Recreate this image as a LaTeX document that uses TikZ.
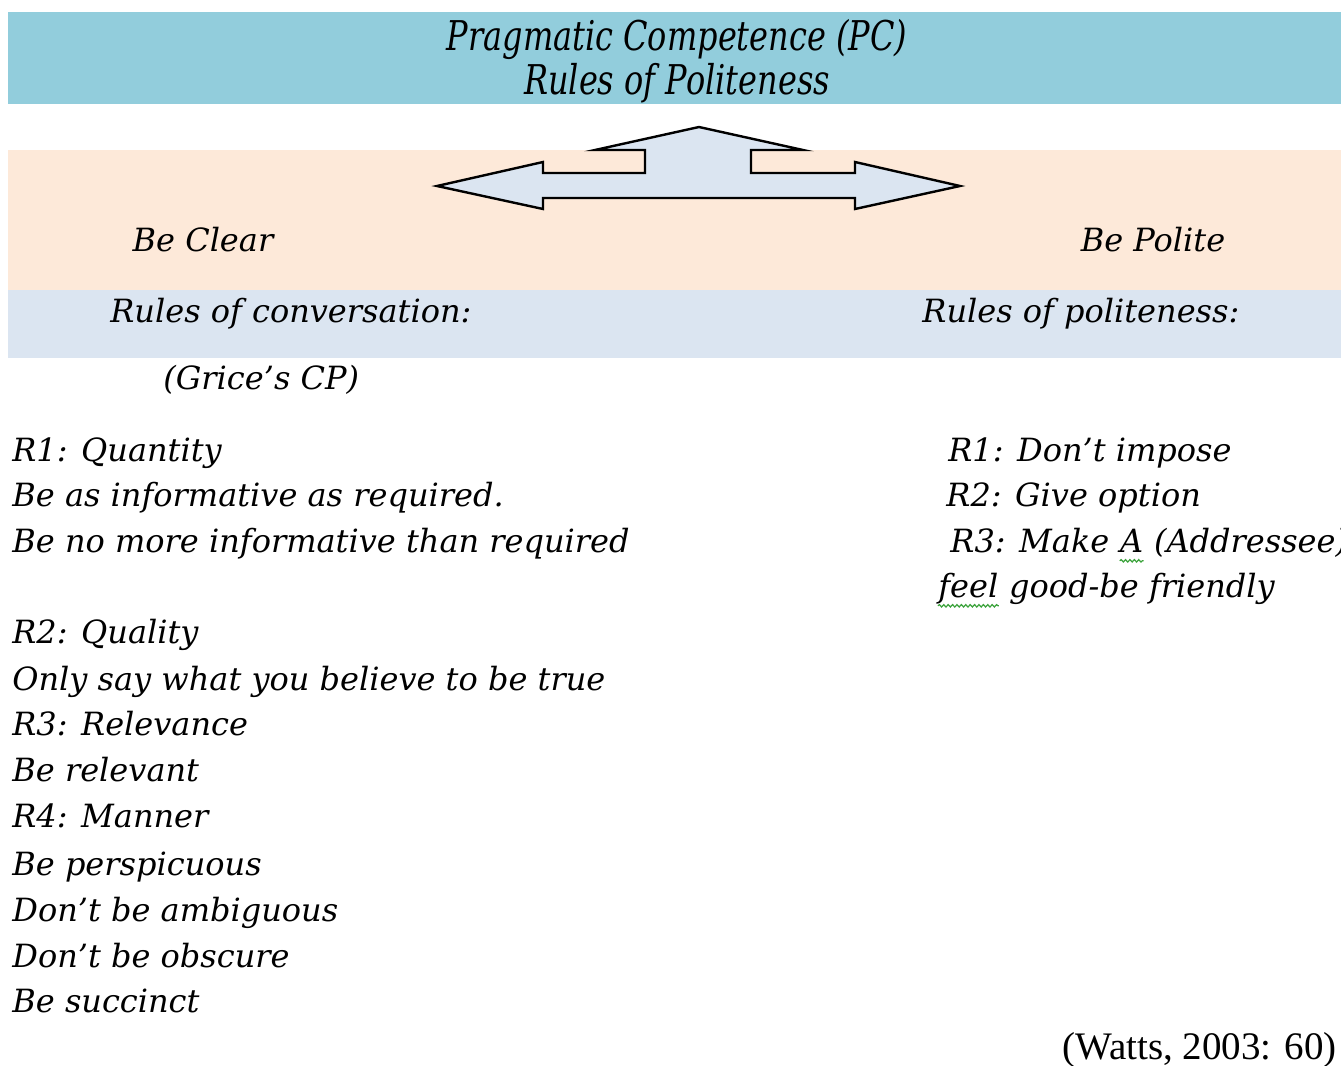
\documentclass[tikz,border=0pt]{standalone}
\usepackage{fontspec}
\setmainfont{DejaVu Serif}
\newfontfamily\hdfont[FakeStretch=0.78]{DejaVu Serif}
\newfontfamily\citefont{Liberation Serif}
\usetikzlibrary{decorations.pathmorphing}
\definecolor{topblue}{HTML}{92CDDC}
\definecolor{peach}{HTML}{FDE9D9}
\definecolor{paleblue}{HTML}{DBE5F1}
\definecolor{spell}{HTML}{3AA23A}
\begin{document}
\begin{tikzpicture}[x=0.5pt,y=-0.5pt,
  txt/.style={inner sep=0pt,font=\fontsize{16}{19}\selectfont\itshape,text height=0.72em,text depth=0.22em},
  hd/.style={inner sep=0pt,font=\fontsize{20.5}{24}\selectfont\hdfont\itshape,text height=0.72em,text depth=0.22em},
  squig/.style={draw=spell,line width=0.6pt,decorate,decoration={snake,amplitude=0.6pt,segment length=2.2pt}}]
\useasboundingbox (0,0) rectangle (1341,1066);
\fill[white] (0,0) rectangle (1341,1066);
% bands
\fill[topblue] (8,12) rectangle (1341,104);
\fill[peach] (8,150) rectangle (1341,290);
\fill[paleblue] (8,290) rectangle (1341,358);
% header
\node[hd] (h1) at (677,45) {Pragmatic Competence (PC)};
\node[hd] (h2) at (677,89) {Rules of Politeness};
% arrow
\draw[fill=paleblue,line width=1.2pt,line join=miter]
  (437,186) -- (543,162) -- (543,173) -- (645,173) -- (645,150) -- (595,150)
  -- (699,127) -- (803,150) -- (751,150) -- (751,173) -- (855,173) -- (855,162)
  -- (960,186) -- (855,209) -- (855,198) -- (543,198) -- (543,209) -- cycle;
% headings
\node[txt] (clear) at (203,246) {Be Clear};
\node[txt] (polite) at (1153,246) {Be Polite};
\node[txt,anchor=west] (rconv) at (110,317) {Rules of conversation:};
\node[txt,anchor=west] (rpol) at (922,317) {Rules of politeness:};
\node[txt,anchor=west] (grice) at (163,384) {(Grice’s CP)};
% left list
\node[txt,anchor=west] (l1) at (12,456) {R1: Quantity};
\node[txt,anchor=west] (l2) at (12,501) {Be as informative as required.};
\node[txt,anchor=west] (l3) at (12,547) {Be no more informative than required};
\node[txt,anchor=west] (l4) at (12,638) {R2: Quality};
\node[txt,anchor=west] (l5) at (12,685) {Only say what you believe to be true};
\node[txt,anchor=west] (l6) at (12,730) {R3: Relevance};
\node[txt,anchor=west] (l7) at (12,776) {Be relevant};
\node[txt,anchor=west] (l8) at (12,822) {R4: Manner};
\node[txt,anchor=west] (l9) at (12,870) {Be perspicuous};
\node[txt,anchor=west] (l10) at (12,916) {Don’t be ambiguous};
\node[txt,anchor=west] (l11) at (12,962) {Don’t be obscure};
\node[txt,anchor=west] (l12) at (12,1007) {Be succinct};
% right list
\node[txt,anchor=west] (r1) at (948,456) {R1: Don’t impose};
\node[txt,anchor=west] (r2) at (946,501) {R2: Give option};
\node[txt,anchor=west] (r3a) at (950,547) {R3: Make};
\node[txt,anchor=base west] (r3b) at ([xshift=5pt]r3a.base east) {A};
\node[txt,anchor=base west] (r3c) at ([xshift=5pt]r3b.base east) {(Addressee)};
\node[txt,anchor=west] (r4a) at (938,592) {feel};
\node[txt,anchor=base west] (r4b) at ([xshift=5pt]r4a.base east) {good-be friendly};
\draw[squig] ([yshift=-2pt]r3b.south west) -- ([yshift=-2pt]r3b.south east);
\draw[squig] ([yshift=-2pt]r4a.south west) -- ([yshift=-2pt]r4a.south east);
% citation
\node[inner sep=0pt,anchor=west,font=\fontsize{19.5}{22}\selectfont\citefont] (cite) at (1062,1050) {(Watts, 2003: 60)};
\end{tikzpicture}
\end{document}
